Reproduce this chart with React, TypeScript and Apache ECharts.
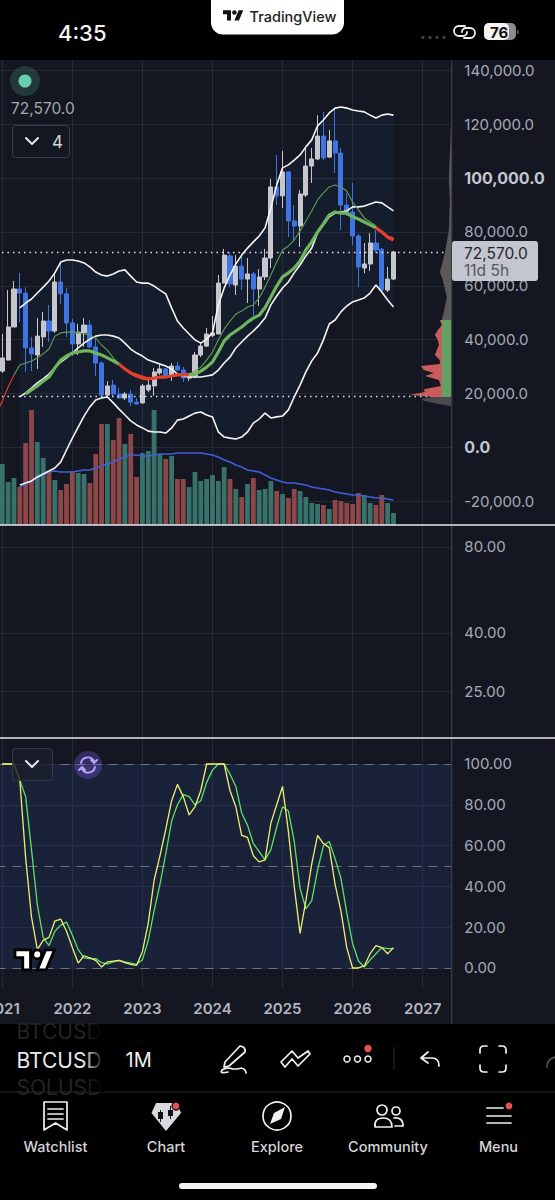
import React, { useEffect, useRef } from "react";
import * as echarts from "echarts";

// ---- categories: monthly bars, Dec 2020 .. Jun 2027 ----
const yearsShown = [2021, 2022, 2023, 2024, 2025, 2026, 2027];
const months: string[] = ["2020-12"];
yearsShown.forEach((y) => {
  for (let m = 1; m <= 12; m++) {
    if (y === 2027 && m > 6) break;
    months.push(`${y}-${String(m).padStart(2, "0")}`);
  }
});

// ---- candles from Jan 2021: [open, close, low, high] ----
const candles: number[][] = [
  [28300, 33200, 27600, 42100], [32400, 44700, 32400, 58400], [44700, 58800, 44700, 61800], [58800, 57300, 46500, 64800],
  [57300, 36900, 28000, 59500], [36900, 34700, 28300, 41000], [34300, 41300, 29100, 48000], [41000, 46900, 37300, 50300],
  [46900, 43200, 39100, 52900], [43200, 61400, 42500, 65100], [61400, 57000, 53200, 68500], [57000, 46200, 41000, 59200],
  [46200, 38400, 33900, 47700], [38400, 42800, 34300, 45800], [42500, 45400, 37300, 48000], [45400, 37300, 36900, 47300],
  [37300, 31300, 26500, 40600], [31300, 19400, 18700, 32000], [19400, 22800, 18700, 24600], [23100, 19800, 18700, 25000],
  [19800, 18300, 18300, 22000], [18300, 19800, 17600, 20500], [19800, 16800, 15300, 21300], [16800, 16100, 15800, 18300],
  [16500, 22800, 16100, 23500], [21300, 23100, 20500, 25000], [22800, 28000, 19100, 29500], [27600, 29100, 26900, 30900],
  [29100, 26100, 25800, 29500], [26500, 30200, 24600, 31300], [30200, 28700, 28300, 31700], [28700, 25700, 24300, 29800],
  [25700, 27200, 24600, 27600], [26500, 34300, 25700, 35400], [34300, 37600, 33500, 38700], [37600, 42100, 37300, 44300],
  [41500, 42500, 40900, 48800], [42100, 61000, 42000, 64000], [61000, 71400, 61000, 73700], [71100, 60700, 59500, 72500],
  [60300, 67300, 56600, 71400], [67300, 62500, 58400, 71400], [62500, 64400, 53600, 70300], [64400, 58800, 48800, 65100],
  [58800, 63300, 52500, 66200], [63300, 70300, 62100, 73700], [70300, 96700, 66600, 99700], [96700, 93400, 90000, 108600],
  [93400, 102300, 88900, 110100], [102300, 84100, 78100, 102400], [84100, 82200, 76600, 90000], [82200, 94100, 74400, 95600],
  [93700, 104500, 93000, 111600], [104500, 107100, 98200, 111200], [107100, 115600, 106700, 123400], [115600, 107500, 106700, 124600],
  [107800, 113800, 107500, 117900], [113800, 109300, 101900, 126000], [109300, 90000, 80700, 111200], [90000, 87000, 85900, 94500],
  [87400, 78500, 75100, 98200], [78500, 67000, 59500, 79200], [66600, 68100, 64700, 75900], [68100, 75900, 65500, 79600],
  [75900, 73300, 72200, 80700], [73600, 58400, 57700, 74000], [58400, 62500, 57700, 67000], [62500, 72570, 62100, 72800],
];

// ---- Bollinger-style bands, from Apr 2021 ----
const bandUpper = [
  51800, 53600, 55100, 57300, 59500, 61800, 64800, 68800, 69600, 69600,
  69200, 68500, 67000, 65100, 64000, 63600, 64400, 65500, 65900, 63600,
  61400, 61000, 61000, 59900, 58400, 57000, 51800, 46900, 44300, 42100,
  39900, 38700, 40200, 42500, 52900, 59200, 64000, 68100, 71400, 74000,
  76300, 78500, 81500, 88900, 97400, 103800, 104900, 106700, 108600, 111600,
  114200, 119400, 121600, 124200, 126000, 126400, 126000, 125300, 124900, 124600,
  123400, 122300, 123400, 123800, 123400,
];
const bandBasis = [
  18700, 20200, 22000, 23900, 25400, 27200, 29500, 31700, 33200, 35000,
  36900, 38700, 40200, 41300, 41700, 41700, 41300, 40600, 38700, 36500,
  35000, 33900, 32400, 31700, 30900, 30200, 29100, 27200, 26500, 26100,
  26100, 26100, 26500, 26900, 28700, 31300, 33500, 36900, 39100, 41300,
  43200, 45400, 48000, 52900, 56200, 59200, 61400, 64800, 67700, 71100,
  74000, 79600, 82600, 85600, 87000, 87400, 87800, 89300, 89300, 89600,
  90400, 91100, 90800, 89300, 87800,
];
const bandLower = [
  -14000, -13300, -12500, -11000, -9900, -8800, -7700, -5500, -1000, 3400,
  7500, 11600, 15000, 17600, 18300, 18700, 16500, 14200, 12000, 9800,
  8300, 7200, 6000, 5700, 5700, 5300, 7200, 10100, 10500, 11600,
  12700, 13100, 12000, 11300, 5700, 3800, 3400, 3100, 3800, 5700,
  9000, 10500, 12700, 10900, 11300, 11600, 13900, 18700, 23100, 28000,
  32100, 35000, 39900, 45800, 47300, 50300, 52500, 54000, 54700, 55500,
  57300, 60300, 57700, 54700, 52100,
];
// ---- moving averages: thin from Dec 2020, thick from May 2021 ----
const maThin = [
  12400, 17200, 22400, 26900, 30600, 31300, 32100, 33200, 34700, 36500, 41300, 42500, 42800, 42800,
  42500, 42100, 41700, 40600, 38000, 36100, 33200, 30900, 29500, 28000, 27200, 26500, 25700, 25700,
  26100, 26100, 26500, 26900, 27200, 27200, 28300, 29800, 32400, 35400, 39900, 43900, 46900, 49500,
  50600, 52100, 52900, 55500, 59500, 64000, 68800, 73300, 74800, 77000, 80400, 84100, 87800, 91900,
  94500, 96700, 97400, 96700, 95200, 91100, 88200, 85200, 83700, 82200, 80000, 78500, 77800,
];
const maThick = [
  19800, 21300, 22800, 24600, 26100, 29500, 32400, 33900, 35000, 35400, 35800, 35800, 35000, 34300,
  33200, 32100, 30900, 29100, 27600, 26500, 25700, 25400, 25700, 26100, 26100, 26500, 26900, 26900,
  26900, 27200, 28300, 29800, 31700, 35400, 39500, 41700, 43200, 44700, 46500, 48000, 49100, 51800,
  55800, 59900, 63300, 64800, 66600, 69200, 73300, 76300, 80000, 83000, 86300, 87400, 87000, 87000,
  85600, 84800, 83700, 82600, 81500, 80000, 78100, 77000,
];

// ---- volume (relative units), from Jan 2021; its average from Apr 2021 ----
const volumes = [
  61, 43, 47, 38, 82, 115, 83, 67, 54, 45, 35, 41, 54, 52, 51, 42, 71, 101, 101, 85, 107, 81, 91, 48,
  72, 74, 115, 71, 66, 69, 46, 46, 38, 53, 44, 46, 50, 44, 58, 46, 36, 28, 41, 47, 35, 36, 44, 34,
  31, 27, 36, 34, 28, 22, 21, 20, 16, 25, 24, 22, 21, 32, 30, 22, 20, 30, 22, 12,
];
const volumeAvg = [
  38, 41, 44, 47, 50, 53, 54, 53, 53, 53, 54, 55, 55, 57, 59, 61, 63, 66, 68, 70, 70, 69, 69, 70,
  71, 71, 71, 72, 72, 72, 72, 72, 71, 70, 68, 65, 63, 60, 58, 55, 54, 53, 50, 47, 45, 43, 42, 42,
  41, 40, 38, 37, 36, 35, 33, 32, 31, 30, 30, 29, 28, 27, 27, 26, 25,
];

// ---- stochastic, from Jan 2021 ----
const stochK = [
  100, 100, 100, 92, 54, 25, 9, 13.5, 15, 23, 24, 18, 10, 2.4, 6, 5, 3.7, 0.5, 3, 3.4, 3.7, 2.6, 1.8, 1.3,
  8, 22, 43, 55, 68, 82, 90, 84, 75, 79, 87, 100, 100, 100, 100, 87, 79, 65, 64, 55, 52, 53, 71, 80,
  89, 67, 40, 17, 33, 51, 65, 61, 59, 41, 28, 10, 0, 0, 1, 7, 11, 10, 7, 10,
];
const stochD = [
  100, 100, 100, 92, 84, 58, 31, 15, 11, 18, 21, 22.5, 16, 9, 5, 4.6, 4.6, 2.6, 2, 3, 3.7, 3, 2.4, 1.8,
  4, 13.5, 28, 41, 56, 72, 80, 85, 84, 80, 82, 91, 97, 100, 100, 95, 89, 76, 70, 61, 57, 53, 58, 69,
  79, 77, 62, 39, 29, 33, 48, 60, 62, 53.5, 44, 27, 12, 3.4, 0.5, 4, 7, 10, 9.5, 9.5,
];

// ---- volume profile: prices and lengths ----
const profileRedPrices = [47300, 45400, 43600, 41700, 39900, 38000, 36100, 34300, 32400, 30900, 30200, 28700, 27600, 26500, 25000, 23900, 22800, 21600, 20500, 19400, 18700];
const profileRedLens = [12, 10, 14, 17, 14, 13, 15, 17, 12, 12, 31, 28, 18, 27, 13, 12, 11, 28, 27, 42, 18];
const profileGreyPrices = [119000, 99300, 91900, 80700, 72200, 67700, 65100, 62100, 55800, 52100, 47300];
const profileGreyLens = [1, 3, 2, 3, 7, 10, 12, 9, 5, 7, 10];
const profileLowPrices = [18700, 18000, 17200, 16500, 15300];
const profileLowLens = [18, 30, 28, 18, 1];
const profileGreenPrices = [47300, 18700];
const profileGreenLens = [10, 10];

// ---- axis ticks ----
const priceTicks = [-20000, 0, 20000, 40000, 60000, 80000, 100000, 120000, 140000];
const rsiTicks = [25, 40, 80];
const stochTicks = [0, 20, 40, 60, 80, 100];
const stochDashes = [0, 50, 100];

const lastPrice = 72570;
const lowLine = 19060;

const pad = (n: number, arr: any[]) => [...Array(n).fill(null), ...arr];
const only = (arr: any[], ranges: number[][]) =>
  arr.map((v, i) => (ranges.some(([a, b]) => i >= a && i <= b) ? v : null));

const BG = "#141722";
const GRID = "#252936";
const GREY = "#c6c7cc";
const BLUE = "#3f74e2";
const RED = "#e5402a";
const TXT = "#a7aab4";

const LOGO = "M14 22H7V11H0V4h14v18zM28 22h-8l7.5-18h8L28 22z M24 8a4 4 0 1 1-8 0a4 4 0 0 1 8 0z";
const icons: Record<string, string> = {
  tv: LOGO,
  chev: "M0 0 L6 6 L12 0",
  pen: "M240 1046 Q246 1047 245 1052 L229 1066 L224 1067 L225 1062 Z M228 1072 Q219 1074 222 1070 Q226 1067 233 1069 Q240 1069 241 1068 Q246 1069 246 1073",
  trend: "M281 1062 L292 1051 L298 1058 L308 1051 L310 1054 L298 1066 L292 1059 L285 1067 Z",
  undo: "M428 1052 L421 1058 L428 1063 M421 1058 H432 Q439 1058 439 1066",
  full: "M480 1053 V1050 Q480 1046 484 1046 H487 M499 1046 H502 Q506 1046 506 1050 V1053 M506 1065 V1068 Q506 1072 502 1072 H499 M487 1072 H484 Q480 1072 480 1068 V1065",
  redo: "M547 1067 Q547 1059 555 1057",
  watch: "M44 1102 H67 V1130 L55.5 1123 L44 1130 Z M48 1109 H63 M48 1114 H63 M48 1119 H63",
  gem: "M156 1103 H177 L181 1113 L166 1131 L151.5 1113 Z",
  gemIn: "M160 1110 V1112 H158 V1119 H160 V1122 H161 V1119 H163 V1112 H161 V1110 Z M170 1106 V1110 H168 V1116 H170 V1119 H171 V1116 H173 V1110 H171 V1106 Z",
  needle: "M285 1107 L281 1119 L270 1124 L274 1113 Z",
  people: "M375 1127 Q374 1118 383 1118 Q392 1118 392 1127 Z M394 1118 Q403 1117 403 1126 L395 1126 M387 1110 A5 5 0 1 1 377 1110 A5 5 0 1 1 387 1110 Z M400 1111 A4 4 0 1 1 392 1111 A4 4 0 1 1 400 1111 Z",
  menu: "M487 1108 H503 M487 1116 H511 M487 1123 H511",
  link: "M465 26 H459 A5 5 0 0 0 459 36 H463 A4 4 0 0 0 467 32 M464 38 H470 A5 5 0 0 0 470 28 H466 A4 4 0 0 0 462 32",
  sync: "M81 763 A7 7 0 0 1 94 761 M97 760 L94 763 L91 760 M95 767 A7 7 0 0 1 82 769 M79 770 L82 767 L85 770",
};

let registered = false;
function registerIcons() {
  if (registered) return;
  registered = true;
  Object.keys(icons).forEach((k) => {
    echarts.graphic.registerShape("ic_" + k, (echarts.graphic as any).extendPath(icons[k], {}));
  });
}

const txt = (text: string, x: number, y: number, fill: string, fontSize: number, fontWeight: any = 400, textAlign = "left") => ({
  type: "text", z: 100, silent: true,
  style: { text, x, y, fill, fontSize, fontWeight, fontFamily: "Inter", textAlign, textVerticalAlign: "middle" },
});
const stroke = (name: string, color = "#f1f1f3", lineWidth = 1.7, extra: any = {}) => ({
  type: "ic_" + name, z: 100, silent: true, ...extra,
  style: { fill: "none", stroke: color, lineWidth, lineCap: "round", lineJoin: "round" },
});
const solid = (name: string, color: string, extra: any = {}) => ({
  type: "ic_" + name, z: 100, silent: true, ...extra, style: { fill: color },
});
const rect = (x: number, y: number, width: number, height: number, fill: any, r = 0, z = 95, strokeC?: string) => ({
  type: "rect", z, silent: true, shape: { x, y, width, height, r },
  style: { fill, stroke: strokeC, lineWidth: strokeC ? 1 : 0 },
});
const dot = (cx: number, cy: number, r: number, fill: string, strokeC?: string, lw = 1.5) => ({
  type: "circle", z: 100, silent: true, shape: { cx, cy, r },
  style: { fill, stroke: strokeC, lineWidth: strokeC ? lw : 0 },
});

function buildGraphics() {
  return [
    rect(0, 0, 555, 60, "#000", 0, 90),
    rect(0, 1024, 555, 176, "#000", 0, 90),
    { type: "line", z: 92, silent: true, shape: { x1: 451.7, y1: 60, x2: 451.7, y2: 1024 }, style: { stroke: "#393d4a", lineWidth: 1.2 } },
    { type: "line", z: 92, silent: true, shape: { x1: 0, y1: 525, x2: 555, y2: 525 }, style: { stroke: "#e8e8ee", lineWidth: 1.6 } },
    { type: "line", z: 92, silent: true, shape: { x1: 0, y1: 738, x2: 555, y2: 738 }, style: { stroke: "#e8e8ee", lineWidth: 1.6 } },
    // status bar
    txt("4:35", 58, 32.5, "#f4f4f4", 22, 500),
    rect(211, -12, 133, 46.5, "#fff", 12),
    solid("tv", "#111", { x: 223, y: 8, scaleX: 0.57, scaleY: 0.57 }),
    txt("TradingView", 249.5, 16.5, "#222", 14.5, 500),
    dot(423, 37.5, 1.6, "#444"), dot(430, 37.5, 1.6, "#444"), dot(437, 37.5, 1.6, "#444"), dot(444, 37.5, 1.6, "#444"),
    stroke("link", "#f0f0f0", 1.8),
    rect(484, 23, 32, 17, "#8b8b8b", 5),
    rect(484, 23, 25, 17, "#f2f2f2", 5, 96),
    txt("76", 490, 32, "#111", 15, 700),
    rect(517, 30, 1.5, 4, "#666", 1),
    // price legend
    dot(25, 81, 15, "rgba(103,208,174,0.18)"),
    dot(25, 81, 6.5, "#68cfae"),
    txt("72,570.0", 11, 108, "#a3a6ae", 15.5),
    rect(12.5, 125.5, 57, 32, "rgba(20,23,34,0.85)", 3, 95, "#383c48"),
    stroke("chev", "#e6e6ea", 2, { x: 26, y: 138 }),
    txt("4", 52, 142, "#d5d6da", 17),
    // last-price tag
    rect(452, 241, 86, 40, "#c4c6cf", 3),
    txt("72,570.0", 464, 253, "#23252c", 15.5),
    txt("11d 5h", 464, 270.5, "#565862", 15.5),
    // stochastic controls
    rect(12.5, 748.5, 40, 32, "rgba(26,30,43,0.82)", 3, 95, "#363a46"),
    stroke("chev", "#e6e6ea", 2, { x: 26, y: 761 }),
    dot(88, 765, 14, "rgba(122,92,230,0.32)"),
    stroke("sync", "#b9a2f6", 1.9),
    { type: "ic_tv", z: 99, silent: true, x: 15, y: 945.5, scaleX: 1.11, scaleY: 1.11, style: { fill: "#fff", stroke: "#000", lineWidth: 2.5 } },
    // symbol wheel
    txt("BTCUSD", 16.5, 1031, "#232325", 21),
    txt("BTCUSD", 16.5, 1060, "#e9e9ec", 21),
    txt("SOLUSD", 16.5, 1087, "#232325", 21),
    { type: "rect", z: 101, silent: true, shape: { x: 84, y: 1024, width: 20, height: 68 },
      style: { fill: { type: "linear", x: 0, y: 0, x2: 1, y2: 0, colorStops: [{ offset: 0, color: "rgba(0,0,0,0)" }, { offset: 1, color: "#000" }] } } },
    txt("1M", 125.5, 1060, "#f0f0f2", 20),
    // toolbar
    stroke("pen"), stroke("trend"),
    dot(347, 1059, 3, "none", "#f0f0f0"), dot(357.5, 1059, 3, "none", "#f0f0f0"), dot(368, 1059, 3, "none", "#f0f0f0"),
    dot(368, 1048.5, 3.7, "#e5505a"),
    { type: "line", z: 100, silent: true, shape: { x1: 394, y1: 1047, x2: 394, y2: 1070 }, style: { stroke: "#2b2b2d", lineWidth: 1 } },
    stroke("undo"), stroke("full"), stroke("redo", "#555"),
    { type: "line", z: 100, silent: true, shape: { x1: 0, y1: 1092, x2: 555, y2: 1092 }, style: { stroke: "#2a2a2c", lineWidth: 1 } },
    // bottom navigation
    stroke("watch"),
    solid("gem", "#d9dade"), solid("gemIn", "#111"),
    dot(176, 1106, 4, "#e5505a", "#000", 1.2),
    dot(277, 1116, 14, "none", "#f0f0f0", 1.7), solid("needle", "#f0f0f0"),
    stroke("people"), stroke("menu"),
    dot(509, 1106, 4, "#e5505a", "#000", 1.2),
    txt("Watchlist", 55.5, 1146, "#d4d4d8", 14.5, 500, "center"),
    txt("Chart", 166, 1146, "#d4d4d8", 14.5, 500, "center"),
    txt("Explore", 277, 1146, "#d4d4d8", 14.5, 500, "center"),
    txt("Community", 388, 1146, "#d4d4d8", 14.5, 500, "center"),
    txt("Menu", 498.5, 1146, "#d4d4d8", 14.5, 500, "center"),
    rect(179, 1183, 198, 6, "#f4f4f4", 3),
  ];
}

const isYear = (v: string) => String(v).endsWith("-01");

function catAxis(gridIndex: number, showLabels: boolean) {
  return {
    type: "category", gridIndex, data: months, boundaryGap: false,
    axisLine: { show: false }, axisTick: { show: false },
    axisLabel: {
      show: showLabels, interval: (_: number, v: string) => isYear(v),
      formatter: (v: string) => (isYear(v) ? v.slice(0, 4) : ""),
      color: "#b3b6c0", fontFamily: "Inter", fontSize: 15, fontWeight: 600, margin: 12, hideOverlap: false,
    },
    splitLine: { show: true, interval: (_: number, v: string) => isYear(v), lineStyle: { color: GRID, width: 1 } },
  };
}
function valAxis(gridIndex: number, extra: any) {
  return {
    type: "value", gridIndex, position: "right", axisLine: { show: false },
    splitLine: { show: true, lineStyle: { color: GRID, width: 1 } }, ...extra,
  };
}

function polygonSeries(name: string, xAxisIndex: number, yAxisIndex: number, points: number[][], fill: string, z: number) {
  return {
    type: "custom", name, xAxisIndex, yAxisIndex, data: [[0, 0]], z, silent: true, clip: true,
    renderItem: (_: any, api: any) => ({
      type: "polygon",
      shape: { points: points.map((p) => api.coord(p)) },
      style: { fill },
    }),
  };
}
const profilePoints = (prices: number[], lens: number[]) => [
  [0, prices[0]],
  ...prices.map((p, i) => [lens[i], p]),
  [0, prices[prices.length - 1]],
];
const line = (name: string, data: any[], color: string, width: number, z: number, extra: any = {}) => ({
  type: "line", name, data, showSymbol: false, symbol: "none", connectNulls: false, silent: true, z,
  lineStyle: { color, width }, itemStyle: { color }, ...extra,
});

export default function App() {
  const ref = useRef<HTMLDivElement>(null);
  useEffect(() => {
    document.body.style.margin = "0";
    document.body.style.background = "#000";
    registerIcons();
    const chart = echarts.init(ref.current!, undefined, { renderer: "svg" });

    const upper = pad(4, bandUpper);
    const basis = pad(4, bandBasis);
    const lower = pad(4, bandLower);
    const thin = maThin;
    const thick = pad(5, maThick);
    const vols = pad(1, volumes.map((v, i) => ({
      value: v,
      itemStyle: { color: candles[i][1] >= candles[i][0] ? "#38726b" : "#8c4748" },
    })));
    const bandPts: number[][] = [
      ...bandUpper.map((v, i) => [i + 4, v]),
      ...bandLower.map((v, i) => [i + 4, v]).reverse(),
    ];
    const priceLabel = (v: number) => {
      const s = v.toLocaleString("en-US", { minimumFractionDigits: 1, maximumFractionDigits: 1 });
      return v === 100000 || v === 0 ? `{b|${s}}` : s;
    };
    const labelBase = { color: TXT, fontFamily: "Inter", fontSize: 15, margin: 12.5 };

    chart.setOption({
      animation: false,
      backgroundColor: BG,
      graphic: { elements: buildGraphics() },
      grid: [
        { left: -3.54, top: 60, width: 455.4, height: 465, outerBoundsMode: "none" },
        { left: -3.54, top: 526, width: 455.4, height: 211, outerBoundsMode: "none" },
        { left: -3.54, top: 739, width: 455.4, height: 250, outerBoundsMode: "none" },
      ],
      xAxis: [
        catAxis(0, false),
        catAxis(1, false),
        catAxis(2, true),
        { type: "value", gridIndex: 0, min: 0, max: 455.4, inverse: true, show: false },
      ],
      yAxis: [
        valAxis(0, {
          min: -28860, max: 143870,
          axisTick: { show: false, customValues: priceTicks },
          axisLabel: { ...labelBase, customValues: priceTicks, formatter: priceLabel,
            rich: { b: { color: "#c4c7cf", fontFamily: "Inter", fontSize: 16, fontWeight: 700 } } },
        }),
        { type: "value", gridIndex: 0, min: 0, max: 465, show: false, splitLine: { show: false } },
        valAxis(1, {
          min: Math.log(17.3), max: Math.log(94.7),
          axisTick: { show: false, customValues: rsiTicks.map(Math.log) },
          axisLabel: { ...labelBase, customValues: rsiTicks.map(Math.log), formatter: (v: number) => Math.exp(v).toFixed(2) },
        }),
        valAxis(2, {
          min: -10.3, max: 112.25,
          axisTick: { show: false, customValues: stochTicks },
          axisLabel: { ...labelBase, customValues: stochTicks, formatter: (v: number) => v.toFixed(2) },
        }),
      ],
      series: [
        polygonSeries("bandFill", 0, 0, bandPts, "rgba(38,88,150,0.1)", 1),
        { type: "bar", name: "Volume", xAxisIndex: 0, yAxisIndex: 1, data: vols, barWidth: 4.8, z: 2, silent: true },
        line("Volume MA", pad(4, volumeAvg), "#3f5fd6", 1.6, 3, { xAxisIndex: 0, yAxisIndex: 1 }),
        {
          type: "candlestick", name: "BTCUSD", xAxisIndex: 0, yAxisIndex: 0, z: 4, silent: true,
          data: ["-", ...candles], barWidth: 4.6,
          itemStyle: { color: GREY, color0: BLUE, borderColor: GREY, borderColor0: BLUE, borderWidth: 1 },
        },
        line("MA thin green", only(thin, [[3, 21], [33, 65]]), "#5d9f52", 1.1, 6),
        line("MA thin red", only(thin, [[0, 3], [21, 33], [65, 68]]), RED, 1.1, 6),
        line("Upper", upper, "#f4f4f4", 1.6, 5),
        line("Basis", basis, "#f4f4f4", 1.6, 5),
        line("Lower", lower, "#f4f4f4", 1.6, 5),
        line("MA thick green", only(thick, [[5, 21], [33, 65]]), "#6fb55c", 3.2, 6),
        line("MA thick red", only(thick, [[21, 33], [65, 68]]), RED, 3.2, 6),
        {
          type: "line", name: "levels", data: [], xAxisIndex: 0, yAxisIndex: 0, z: 7, silent: true,
          markLine: {
            silent: true, symbol: "none", animation: false, label: { show: false },
            lineStyle: { color: "#e6e6ea", type: [1.5, 4], width: 1.3 },
            data: [{ yAxis: lastPrice }, { yAxis: lowLine }],
          },
        },
        polygonSeries("profileGrey", 3, 0, profilePoints(profileGreyPrices, profileGreyLens), "#5c5858", 8),
        polygonSeries("profileRed", 3, 0, profilePoints(profileRedPrices, profileRedLens), "#cb5c5e", 8),
        polygonSeries("profileGreen", 3, 0, profilePoints(profileGreenPrices, profileGreenLens), "#63a063", 9),
        polygonSeries("profileLow", 3, 0, profilePoints(profileLowPrices, profileLowLens), "#4a4a4e", 8),
        {
          type: "line", name: "stoch zone", data: [], xAxisIndex: 2, yAxisIndex: 3, z: 1, silent: true,
          markArea: {
            silent: true, itemStyle: { color: "rgba(43,82,150,0.2)" }, label: { show: false },
            data: [[{ yAxis: 100 }, { yAxis: 0 }]],
          },
          markLine: {
            silent: true, symbol: "none", animation: false, label: { show: false },
            lineStyle: { color: "#70737f", type: [9, 7], width: 1.1 },
            data: stochDashes.map((v) => ({ yAxis: v })),
          },
        },
        line("%D", pad(1, stochD), "#62e066", 1.3, 5, { xAxisIndex: 2, yAxisIndex: 3 }),
        line("%K", pad(1, stochK), "#eef070", 1.3, 6, { xAxisIndex: 2, yAxisIndex: 3 }),
      ],
    });
    return () => chart.dispose();
  }, []);
  return <div ref={ref} style={{ width: 555, height: 1200, position: "absolute", left: 0, top: 0 }} />;
}
